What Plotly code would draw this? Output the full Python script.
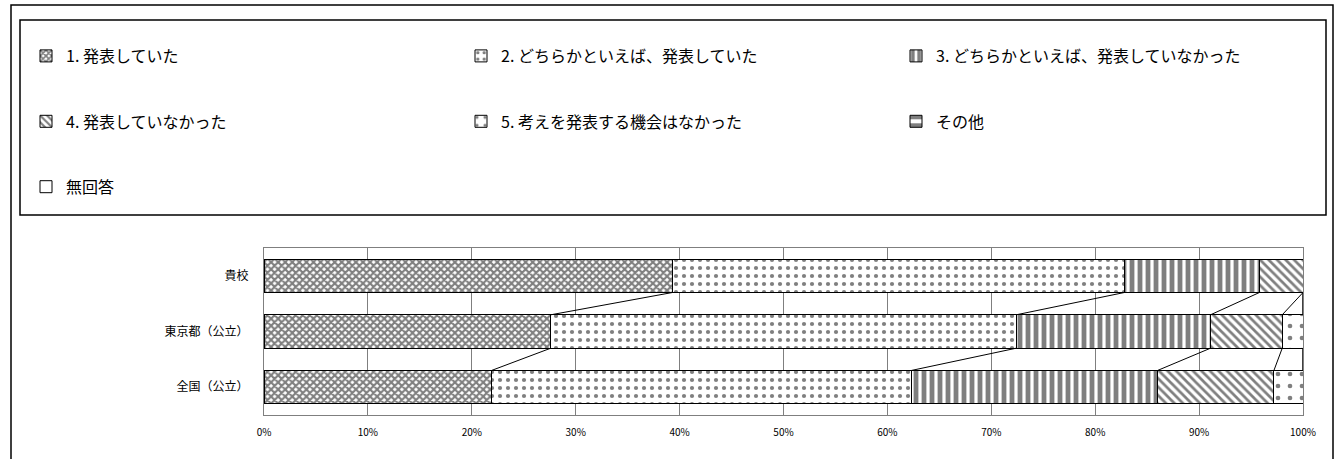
import plotly.graph_objects as go
import numpy as np

categories = ["貴校", "東京都（公立）", "全国（公立）"]
series_names = [
    "1. 発表していた",
    "2. どちらかといえば、発表していた",
    "3. どちらかといえば、発表していなかった",
    "4. 発表していなかった",
    "5. 考えを発表する機会はなかった",
    "その他",
    "無回答",
]
s1 = [39.3, 27.6, 21.9]
s2 = [43.5, 44.8, 40.4]
s3 = [13.0, 18.7, 23.7]
s4 = [4.2, 6.9, 11.2]
s5 = [0.0, 2.0, 2.8]
s6 = [0.0, 0.0, 0.0]
s7 = [0.0, 0.0, 0.0]
series_values = [s1, s2, s3, s4, s5, s6, s7]
tick_vals = [0, 10, 20, 30, 40, 50, 60, 70, 80, 90, 100]
tick_text = [f"{v}%" for v in tick_vals]

patterns = [
    dict(shape="x", size=5, solidity=0.65),
    dict(shape=".", size=8, solidity=0.22),
    dict(shape="|", size=8, solidity=0.6),
    dict(shape="\\", size=6, solidity=0.45),
    dict(shape=".", size=12, solidity=0.12),
    dict(shape="-", size=10, solidity=0.5),
    dict(shape="", size=8, solidity=0.2),
]

ypos = list(range(len(categories)))
BW = 0.6
FONT = "Noto Sans CJK JP"

fig = go.Figure()
for name, vals, pat in zip(series_names, series_values, patterns):
    fig.add_trace(go.Bar(
        x=vals, y=ypos, orientation="h", name=name + "<br> <br> ",
        width=BW,
        marker=dict(color="white", line=dict(color="black", width=1),
                    pattern=dict(shape=pat["shape"], size=pat["size"],
                                 solidity=pat["solidity"], fgcolor="black",
                                 bgcolor="white", fillmode="overlay")),
        hoverinfo="x+name",
    ))

# series lines between bars
cum = np.cumsum(np.array(series_values), axis=0)
for k in range(cum.shape[0] - 1):
    for i in range(len(categories) - 1):
        fig.add_trace(go.Scatter(
            x=[cum[k, i], cum[k, i + 1]],
            y=[ypos[i] + BW / 2, ypos[i + 1] - BW / 2],
            mode="lines", line=dict(color="black", width=1),
            showlegend=False, hoverinfo="skip",
        ))

W, H = 1343, 459
L, R, T, B = 264, 40, 248, 44
pw, ph = W - L - R, H - T - B

def px2x(px):
    return (px - L) / pw

def py2y(py):
    return (H - B - py) / ph

fig.update_layout(
    width=W, height=H,
    margin=dict(l=L, r=R, t=T, b=B, autoexpand=False),
    barmode="stack",
    plot_bgcolor="white", paper_bgcolor="white",
    font=dict(family=FONT, color="black"),
    showlegend=True,
    legend=dict(
        orientation="h", x=px2x(26), y=py2y(39), xanchor="left", yanchor="top",
        entrywidth=390, entrywidthmode="pixels", valign="top",
        font=dict(size=16, family=FONT), traceorder="normal",
        itemclick=False, itemdoubleclick=False, bgcolor="rgba(0,0,0,0)",
        maxheight=1000,
    ),
    xaxis=dict(
        range=[0, 100], tickvals=tick_vals, ticktext=tick_text,
        showgrid=True, gridcolor="#7f7f7f", gridwidth=1,
        showline=True, linecolor="#7f7f7f", mirror=True,
        ticks="", tickfont=dict(size=10, family=FONT), zeroline=False,
        ticklabelstandoff=8, fixedrange=True,
    ),
    yaxis=dict(
        range=[len(categories) - 0.5, -0.5], tickvals=ypos, ticktext=categories,
        showgrid=False, showline=True, linecolor="#7f7f7f", mirror=True,
        ticks="", tickfont=dict(size=12, family=FONT), zeroline=False,
        ticklabelstandoff=12, fixedrange=True,
    ),
    shapes=[
        dict(type="rect", xref="paper", yref="paper",
             x0=px2x(11), x1=px2x(1333), y0=py2y(470), y1=py2y(5),
             line=dict(color="black", width=1.5), layer="below"),
        dict(type="rect", xref="paper", yref="paper",
             x0=px2x(20), x1=px2x(1326), y0=py2y(215), y1=py2y(20),
             line=dict(color="black", width=1.5), layer="below"),
    ],
)

fig.write_html("out.html", config={"displayModeBar": False},
               post_script="document.body.style.margin='0';document.body.style.overflow='hidden';")
